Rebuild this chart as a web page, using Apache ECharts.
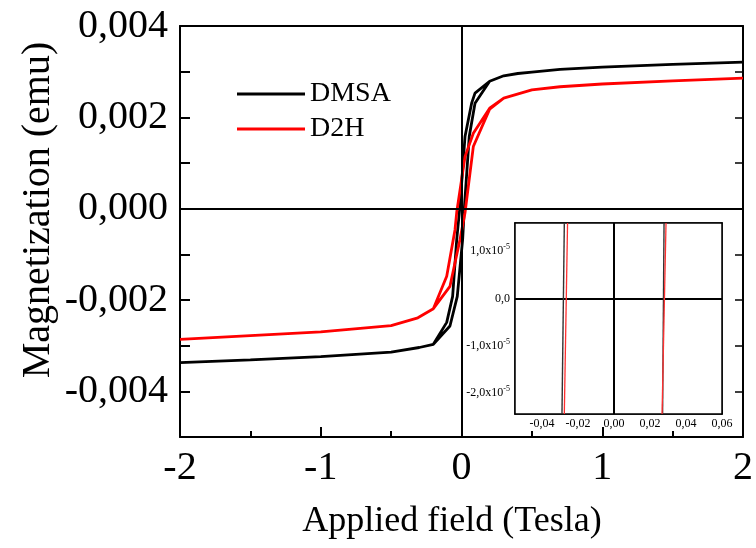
<!DOCTYPE html>
<html>
<head>
<meta charset="utf-8">
<script src="https://cdn.jsdelivr.net/npm/echarts@6/dist/echarts.min.js"></script>
<style>
  html, body { margin: 0; padding: 0; background: #fff; }
  #chart { width: 756px; height: 548px; }
</style>
</head>
<body>
<div id="chart"></div>
<script>
// Hysteresis loops M(H): field in Tesla, magnetization in emu.
// Each loop = descending branch (+2 T -> -2 T) followed by ascending branch.
const dmsaDown = [
  [2.0, 0.00321], [1.5, 0.00316], [1.0, 0.00310], [0.7, 0.00305], [0.5, 0.00299],
  [0.4, 0.00296], [0.3, 0.00291], [0.2, 0.00279], [0.096, 0.00253], [0.072, 0.00231],
  [0.025, 0.00158], [-0.011, 0.00005], [-0.034, -0.00068], [-0.063, -0.00192],
  [-0.105, -0.00249], [-0.2, -0.00297], [-0.3, -0.00304], [-0.5, -0.00314],
  [-1.0, -0.00324], [-1.5, -0.00331], [-2.0, -0.00337]
];
const dmsaUp = [
  [-2.0, -0.00337], [-1.5, -0.00331], [-1.0, -0.00324], [-0.5, -0.00314], [-0.3, -0.00304],
  [-0.2, -0.00297], [-0.082, -0.00257], [-0.03, -0.00192], [0.008, -0.00068],
  [0.02, 0.0], [0.055, 0.00158], [0.096, 0.00231], [0.2, 0.00279], [0.3, 0.00291],
  [0.4, 0.00296], [0.5, 0.00299], [0.7, 0.00305], [1.0, 0.00310], [1.5, 0.00316], [2.0, 0.00321]
];
const d2hDown = [
  [2.0, 0.00286], [1.5, 0.00280], [1.0, 0.00273], [0.7, 0.00267], [0.5, 0.00260],
  [0.3, 0.00242], [0.2, 0.00220], [0.084, 0.00165], [0.025, 0.00114], [-0.034, -0.00008],
  [-0.046, -0.00046], [-0.105, -0.00148], [-0.2, -0.00219], [-0.31, -0.00239],
  [-0.5, -0.00256], [-1.0, -0.00270], [-1.5, -0.00278], [-2.0, -0.00286]
];
const d2hUp = [
  [-2.0, -0.00286], [-1.5, -0.00278], [-1.0, -0.00270], [-0.5, -0.00256], [-0.31, -0.00239],
  [-0.2, -0.00219], [-0.082, -0.00170], [-0.011, -0.00068], [0.025, -0.00009],
  [0.084, 0.00136], [0.2, 0.00218], [0.3, 0.00242], [0.5, 0.00260], [0.7, 0.00267],
  [1.0, 0.00273], [1.5, 0.00280], [2.0, 0.00286]
];

// Enlarged view of the coercive crossings (field in T, magnetization in emu)
const dmsaZoomLeft  = [[-0.0289, -2.45e-5], [-0.0276, 1.6e-5]];
const dmsaZoomRight = [[0.0270, -2.45e-5], [0.0278, 1.6e-5]];
const d2hZoomLeft   = [[-0.0276, -2.45e-5], [-0.0258, 1.6e-5]];
const d2hZoomRight  = [[0.0267, -2.45e-5], [0.0289, 1.6e-5]];

// Tick positions
const mainYLabels = [-0.004, -0.002, 0, 0.002, 0.004];
const insetXLabels = [-0.04, -0.02, 0, 0.02, 0.04, 0.06];
const insetXTicks = [-0.05, -0.04, -0.03, -0.02, -0.01, 0, 0.01, 0.02, 0.03, 0.04, 0.05, 0.06];
const insetYLabels = [-2e-5, -1e-5, 0, 1e-5];
const insetYTicks = [-2e-5, -1.5e-5, -1e-5, -0.5e-5, 0, 0.5e-5, 1e-5, 1.5e-5];

const FONT = 'Liberation Serif';
const BLACK = '#000000';
const RED = '#ff0000';

function comma(v, d) { return v.toFixed(d).replace('.', ','); }

const chart = echarts.init(document.getElementById('chart'), null, { renderer: 'canvas' });

const axisLine = { show: true, onZero: false, lineStyle: { color: BLACK, width: 2 } };
const insetLine = { show: true, onZero: false, lineStyle: { color: BLACK, width: 1.5 } };

const option = {
  backgroundColor: '#ffffff',
  animation: false,
  legend: {
    data: [
      { name: 'DMSA', icon: 'rect', itemStyle: { color: BLACK } },
      { name: 'D2H', icon: 'rect', itemStyle: { color: RED } }
    ],
    orient: 'vertical',
    left: 232,
    top: 75,
    itemWidth: 68,
    itemHeight: 3,
    itemGap: 7,
    selectedMode: false,
    textStyle: { fontFamily: FONT, fontSize: 28, color: BLACK }
  },
  graphic: [
    { type: 'text', x: 38, y: 210, rotation: Math.PI / 2,
      style: { text: 'Magnetization (emu)', fontFamily: FONT, fontSize: 40, fill: BLACK,
        textAlign: 'center', textVerticalAlign: 'middle' } },
    { type: 'text', x: 452, y: 522,
      style: { text: 'Applied field (Tesla)', fontFamily: FONT, fontSize: 36, fill: BLACK,
        textAlign: 'center', textVerticalAlign: 'middle' } }
  ],
  grid: [
    { left: 180, right: 13, top: 26, bottom: 111, show: false },
    { left: 515, top: 223, width: 207, height: 191, show: true,
      backgroundColor: '#ffffff', borderColor: BLACK, borderWidth: 1.5, z: 5 }
  ],
  xAxis: [
    {
      gridIndex: 0, type: 'value', min: -2, max: 2, interval: 1, position: 'bottom',
      axisLine: axisLine,
      axisTick: { show: true, inside: true, length: 10, lineStyle: { color: BLACK, width: 2 } },
      minorTick: { show: true, splitNumber: 2, length: 6, lineStyle: { color: BLACK, width: 2 } },
      splitLine: { show: false },
      axisLabel: { fontFamily: FONT, fontSize: 40, color: BLACK, margin: 11,
        formatter: v => String(Math.round(v)) }
    },
    {
      gridIndex: 0, type: 'value', min: -2, max: 2, position: 'top',
      axisLine: axisLine, axisTick: { show: false }, axisLabel: { show: false },
      splitLine: { show: false }
    },
    {
      gridIndex: 1, type: 'value', min: -0.055, max: 0.06, position: 'bottom',
      axisLine: insetLine,
      axisTick: { show: true, inside: true, length: 4, customValues: insetXTicks,
        lineStyle: { color: BLACK, width: 1 } },
      splitLine: { show: false },
      axisLabel: { fontFamily: FONT, fontSize: 12, color: BLACK, margin: 4,
        customValues: insetXLabels, formatter: v => comma(v, 2) }
    },
    {
      gridIndex: 1, type: 'value', min: -0.055, max: 0.06, position: 'top',
      axisLine: insetLine,
      axisTick: { show: false }, axisLabel: { show: false }, splitLine: { show: false }
    }
  ],
  yAxis: [
    {
      gridIndex: 0, type: 'value', min: -0.005, max: 0.004, interval: 0.001, position: 'left',
      axisLine: axisLine,
      axisTick: { show: true, inside: true, length: 10, lineStyle: { color: BLACK, width: 2 } },
      splitLine: { show: false },
      axisLabel: { fontFamily: FONT, fontSize: 40, color: BLACK, margin: 12,
        customValues: mainYLabels, formatter: v => comma(v, 3) }
    },
    {
      gridIndex: 0, type: 'value', min: -0.005, max: 0.004, interval: 0.001, position: 'right',
      axisLine: axisLine,
      axisTick: { show: true, inside: true, length: 8, lineStyle: { color: BLACK, width: 1.5 } },
      axisLabel: { show: false }, splitLine: { show: false }
    },
    {
      gridIndex: 1, type: 'value', min: -2.45e-5, max: 1.6e-5, position: 'left',
      axisLine: insetLine,
      axisTick: { show: true, inside: true, length: 4, customValues: insetYTicks,
        lineStyle: { color: BLACK, width: 1 } },
      splitLine: { show: false },
      axisLabel: {
        margin: 5, customValues: insetYLabels,
        formatter: v => {
          if (Math.abs(v) < 1e-12) return '{a|0,0}';
          const m = v / 1e-5;
          return '{a|' + comma(m, 1) + 'x10}{s|-5}';
        },
        rich: {
          a: { fontFamily: FONT, fontSize: 12, color: BLACK },
          s: { fontFamily: FONT, fontSize: 8, color: BLACK, verticalAlign: 'top', padding: [0, 0, 8, 0] }
        }
      }
    },
    {
      gridIndex: 1, type: 'value', min: -2.45e-5, max: 1.6e-5, position: 'right',
      axisLine: insetLine,
      axisTick: { show: true, inside: true, length: 4, customValues: insetYTicks,
        lineStyle: { color: BLACK, width: 1 } },
      axisLabel: { show: false }, splitLine: { show: false }
    }
  ],
  series: [
    {
      name: 'DMSA', type: 'line', xAxisIndex: 0, yAxisIndex: 0,
      data: dmsaDown.concat(dmsaUp), showSymbol: false, symbol: 'none',
      lineStyle: { color: BLACK, width: 2.8 }, itemStyle: { color: BLACK }, z: 3,
      markLine: {
        silent: true, symbol: 'none', label: { show: false },
        lineStyle: { color: BLACK, width: 2, type: 'solid' },
        data: [{ xAxis: 0 }, { yAxis: 0 }]
      }
    },
    {
      name: 'D2H', type: 'line', xAxisIndex: 0, yAxisIndex: 0,
      data: d2hDown.concat(d2hUp), showSymbol: false, symbol: 'none',
      lineStyle: { color: RED, width: 2.8 }, itemStyle: { color: RED }, z: 3
    },
    {
      name: 'DMSA', type: 'line', xAxisIndex: 2, yAxisIndex: 2, data: dmsaZoomLeft,
      symbol: 'none', lineStyle: { color: '#333333', width: 1.4 }, z: 6,
      markLine: {
        silent: true, symbol: 'none', label: { show: false },
        lineStyle: { color: BLACK, width: 2, type: 'solid' },
        data: [{ xAxis: 0 }, { yAxis: 0 }]
      }
    },
    {
      name: 'DMSA', type: 'line', xAxisIndex: 2, yAxisIndex: 2, data: dmsaZoomRight,
      symbol: 'none', lineStyle: { color: '#333333', width: 1.4 }, z: 6
    },
    {
      name: 'D2H', type: 'line', xAxisIndex: 2, yAxisIndex: 2, data: d2hZoomLeft,
      symbol: 'none', lineStyle: { color: '#ff3030', width: 1.3 }, z: 6
    },
    {
      name: 'D2H', type: 'line', xAxisIndex: 2, yAxisIndex: 2, data: d2hZoomRight,
      symbol: 'none', lineStyle: { color: '#ff3030', width: 1.3 }, z: 6
    }
  ]
};

chart.setOption(option);
</script>
</body>
</html>
